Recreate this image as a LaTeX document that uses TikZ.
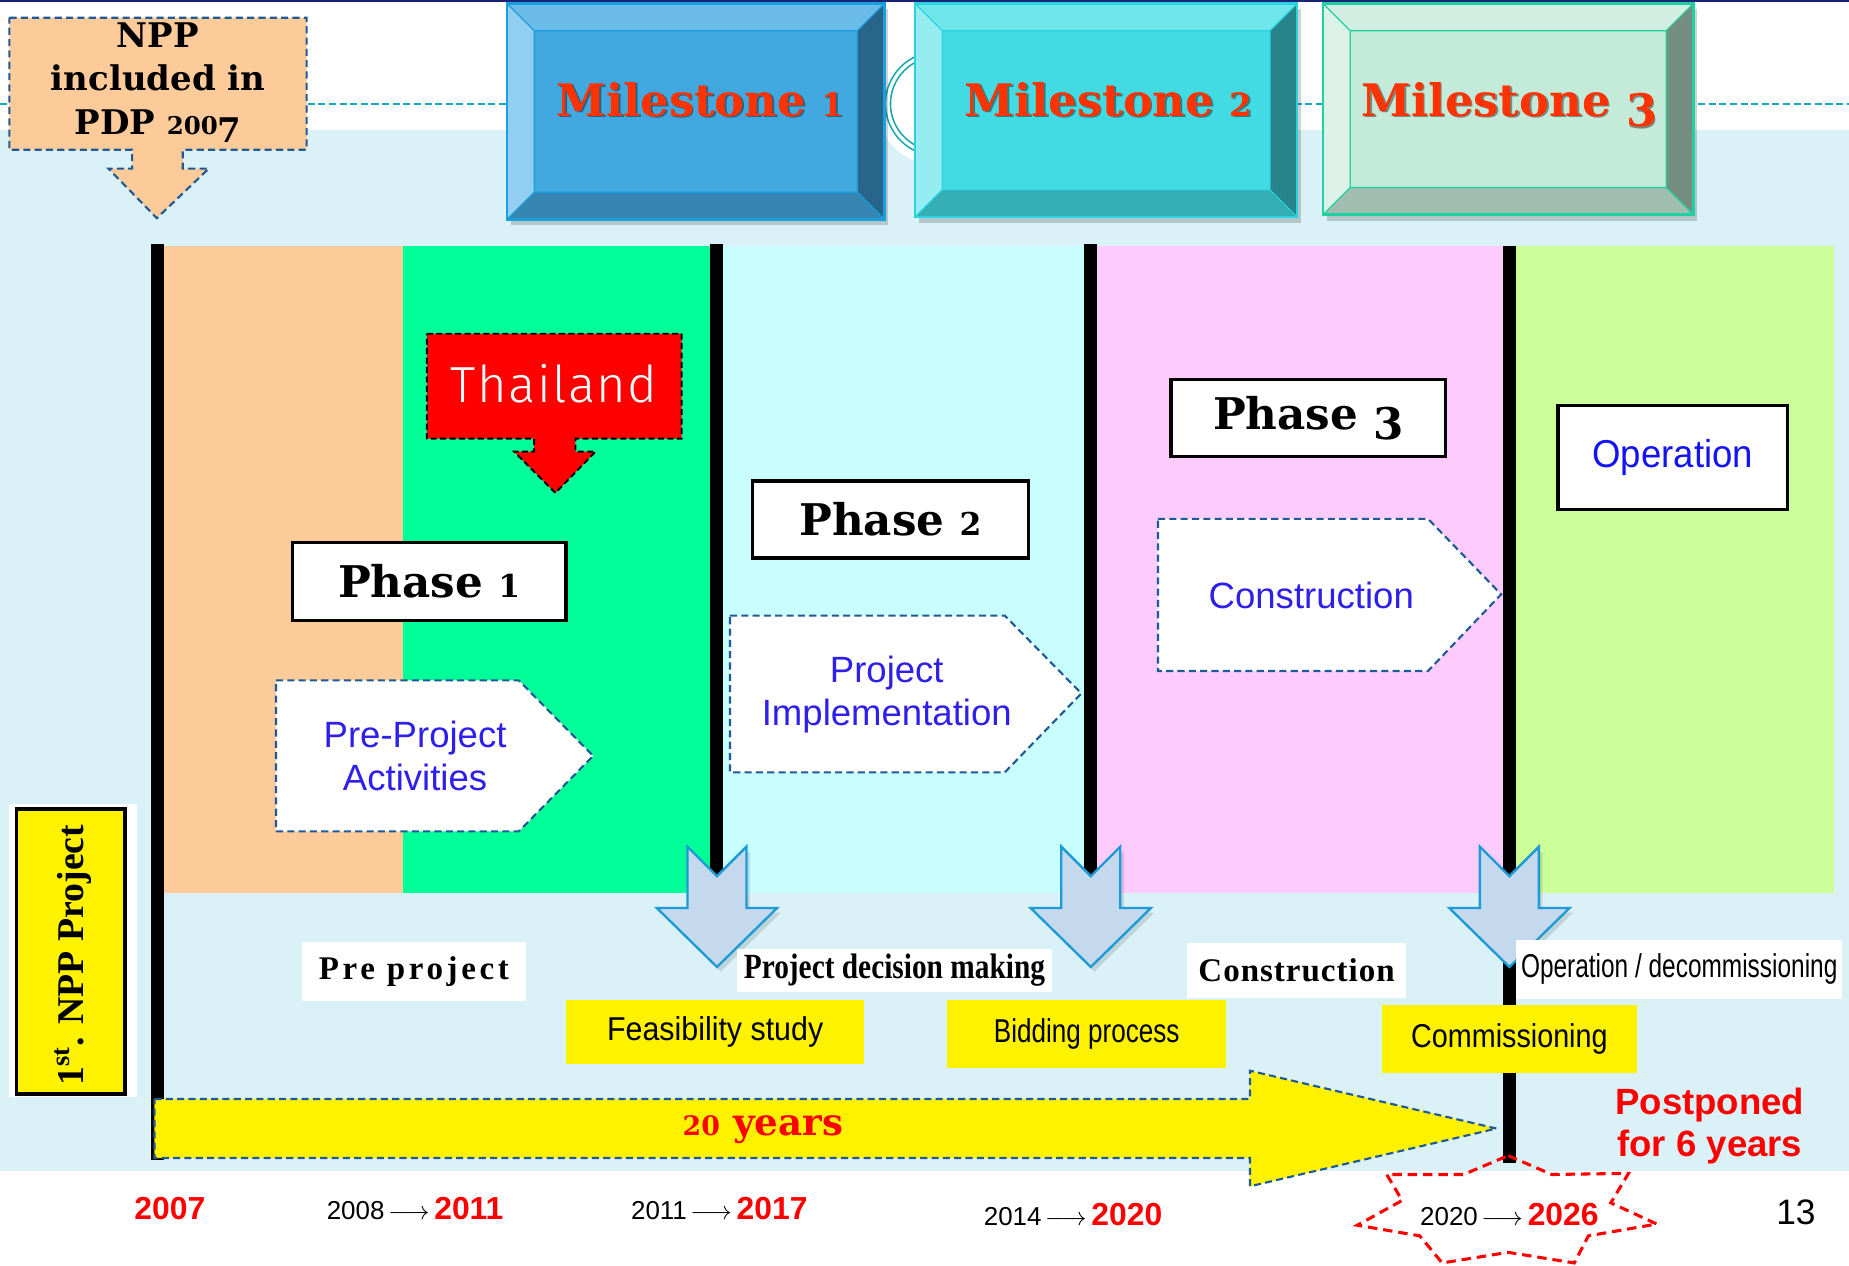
\documentclass[tikz,border=0pt]{standalone}
\usepackage{fontspec}
\usepackage{graphicx}
\newfontfamily\arialf{Liberation Sans}
\newfontfamily\timesf{Liberation Serif}
\newfontfamily\timessp{Liberation Serif}[LetterSpace=11]
\newfontfamily\timessps{Liberation Serif}[LetterSpace=3]
\newfontfamily\thinf{Fira Sans Light}[LetterSpace=3]
\newfontfamily\headf{DejaVu Serif}
% old-style figures: x-height ones and descending ones
\newcommand{\osl}[1]{\scalebox{0.72}{#1}}
\newcommand{\osd}[1]{\raisebox{-0.24em}{#1}}
\newcommand{\fs}[2]{\fontsize{#1}{#2}\selectfont}
\newcommand{\yrspan}[2]{#1\hspace{1.5pt}$\longrightarrow$\hspace{2pt}{\color{red}\bfseries\fs{13.5}{16}#2}}

\definecolor{skyband}{RGB}{218,242,247}
\definecolor{navy}{RGB}{25,35,120}
\definecolor{dashteal}{RGB}{22,168,190}
\definecolor{ringteal}{RGB}{20,168,170}
\definecolor{peach}{RGB}{253,203,153}
\definecolor{mint}{RGB}{0,255,153}
\definecolor{icecyan}{RGB}{200,254,254}
\definecolor{pinkband}{RGB}{253,204,253}
\definecolor{limeband}{RGB}{204,255,153}
\definecolor{outline}{RGB}{31,90,150}
\definecolor{pblue}{RGB}{46,32,232}
\definecolor{oblue}{RGB}{20,20,240}
\definecolor{msred}{RGB}{255,51,0}
\definecolor{arrowfill}{RGB}{196,217,237}
\definecolor{arrowedge}{RGB}{30,155,215}
\definecolor{m1face}{RGB}{66,168,224}
\definecolor{m1top}{RGB}{108,188,233}
\definecolor{m1left}{RGB}{146,206,241}
\definecolor{m1right}{RGB}{39,102,138}
\definecolor{m1bot}{RGB}{53,132,178}
\definecolor{m1edge}{RGB}{25,160,220}
\definecolor{m2face}{RGB}{67,219,227}
\definecolor{m2top}{RGB}{110,230,236}
\definecolor{m2left}{RGB}{149,237,242}
\definecolor{m2right}{RGB}{38,132,138}
\definecolor{m2bot}{RGB}{53,173,180}
\definecolor{m2edge}{RGB}{40,212,224}
\definecolor{m3face}{RGB}{196,234,218}
\definecolor{m3top}{RGB}{210,238,226}
\definecolor{m3left}{RGB}{220,242,233}
\definecolor{m3right}{RGB}{115,142,128}
\definecolor{m3bot}{RGB}{160,190,175}
\definecolor{m3edge}{RGB}{32,208,160}

% bevelled milestone plate: #1 colour prefix, (#2,#3) top-left, (#4,#5) bottom-right
\newcommand{\bevelbox}[5]{%
  \fill[black,opacity=.18] (#2+3,#3+5) rectangle (#4+3,#5+5);
  \fill[#1top] (#2,#3) -- (#4,#3) -- (#4-23,#3+23) -- (#2+23,#3+23) -- cycle;
  \fill[#1left] (#2,#3) -- (#2+23,#3+23) -- (#2+23,#5-23) -- (#2,#5) -- cycle;
  \fill[#1right] (#4,#3) -- (#4,#5) -- (#4-23,#5-23) -- (#4-23,#3+23) -- cycle;
  \fill[#1bot] (#2,#5) -- (#4,#5) -- (#4-23,#5-23) -- (#2+23,#5-23) -- cycle;
  \fill[#1face] (#2+23,#3+23) rectangle (#4-23,#5-23);
  \draw[#1edge, line width=0.5pt] (#2+23,#3+23) rectangle (#4-23,#5-23)
    (#2,#3) -- (#2+23,#3+23) (#4,#3) -- (#4-23,#3+23)
    (#2,#5) -- (#2+23,#5-23) (#4,#5) -- (#4-23,#5-23);
  \draw[#1edge, line width=1pt] (#2,#3) rectangle (#4,#5);
}
% notched down arrow centred on x = #1
\newcommand{\dnarrow}[1]{%
  \fill[black,opacity=.12] (#1-22,722) -- (#1+3,747) -- (#1+28,722) -- (#1+28,774) -- (#1+54,774) -- (#1+3,824) -- (#1-48,774) -- (#1-22,774) -- cycle;
  \draw[downarrow] (#1-25,718) -- (#1,743) -- (#1+25,718) -- (#1+25,770) -- (#1+51,770) -- (#1,820) -- (#1-51,770) -- (#1-25,770) -- cycle;
}

\begin{document}
\begin{tikzpicture}[x=0.5pt,y=-0.5pt,
  outlined/.style={draw=outline, line width=0.9pt, dash pattern=on 3pt off 1.8pt, line join=miter},
  phasebox/.style={draw=black, line width=1.5pt, fill=white, inner sep=0pt, font=\headf\bfseries\fs{18.5}{22}},
  mstext/.style={anchor=base, inner sep=0pt, font=\headf\bfseries\fs{19}{23}},
  pentext/.style={align=center, inner sep=0pt, text=pblue, font=\arialf\fs{15.5}{18.5}},
  whitelab/.style={fill=white, inner sep=0pt},
  yellowlab/.style={fill=yellow, inner sep=0pt, font=\arialf\fs{14}{16}},
  downarrow/.style={fill=arrowfill, draw=arrowedge, line width=1pt, line join=miter},
  bar/.style={line width=5.5pt, black},
  yeartext/.style={inner sep=0pt, font=\arialf\fs{11}{13}}]

\useasboundingbox (0,0) rectangle (1568,1073);
\fill[white] (0,0) rectangle (1568,1073);
\fill[skyband] (0,110) rectangle (1568,993);
\draw[navy, line width=1pt] (0,0.8) -- (1568,0.8);
\draw[dashteal, line width=0.8pt, dash pattern=on 3pt off 1.5pt] (0,88) -- (1568,88);

% ring behind the milestone plates
\fill[white] (795,88) circle[radius=26pt];
\draw[ringteal, line width=0.7pt, double=white, double distance=1.4pt] (795,88) circle[radius=21pt];

% milestone plates
\bevelbox{m1}{430}{3}{750}{186}
\bevelbox{m2}{776}{3}{1100}{184}
\bevelbox{m3}{1122}{3}{1436}{182}
\node[mstext, text=black, opacity=.4] (ms1s) at (595.5,100) {Milestone \osl{1}};
\node[mstext, text=msred] (ms1) at (594,98.5) {Milestone \osl{1}};
\node[mstext, text=black, opacity=.4] (ms2s) at (941.5,100) {Milestone \osl{2}};
\node[mstext, text=msred] (ms2) at (940,98.5) {Milestone \osl{2}};
\node[mstext, text=black, opacity=.4] (ms3s) at (1281.5,100) {Milestone \osd{3}};
\node[mstext, text=msred] (ms3) at (1280,98.5) {Milestone \osd{3}};

% NPP callout
\draw[outlined, fill=peach] (8,15) -- (260,15) -- (260,127) -- (155,127) -- (155,143) -- (177,143)
  -- (133,185) -- (92,143) -- (112,143) -- (112,127) -- (8,127) -- cycle;
\node[align=center, inner sep=0pt, font=\headf\bfseries\fs{14.4}{18.5}] (npp) at (134,70) {NPP\\included in\\PDP \osl{200}\osd{7}};

% phase bands
\fill[peach] (138,209) rectangle (342,757);
\fill[mint] (342,209) rectangle (608,757);
\fill[icecyan] (608,209) rectangle (925,757);
\fill[pinkband] (925,209) rectangle (1280,757);
\fill[limeband] (1280,209) rectangle (1555,757);

% milestone bars
\coordinate (b1t) at (133.5,207); \coordinate (b1b) at (133.5,984);
\coordinate (b2t) at (608,207);   \coordinate (b2b) at (608,745);
\coordinate (b3t) at (925,207);   \coordinate (b3b) at (925,745);
\coordinate (b4t) at (1280,209);  \coordinate (b4b) at (1280,986);
\draw[bar] (b1t) -- (b1b);
\draw[bar] (b2t) -- (b2b);
\draw[bar] (b3t) -- (b3b);
\draw[bar] (b4t) -- (b4b);

% Thailand callout
\draw[fill=red, draw=black, line width=0.8pt, dash pattern=on 2.5pt off 1.5pt, line join=miter]
  (362,283) -- (578,283) -- (578,372) -- (488,372) -- (488,383) -- (505,383) -- (471,418)
  -- (436,383) -- (453,383) -- (453,372) -- (362,372) -- cycle;
\node[inner sep=0pt, text=white, font=\thinf\fs{21.5}{26}] (thai) at (470,325) {Thailand};

% phase headings
\node[phasebox, minimum width=116pt, minimum height=33pt] (ph1) at (364,493) {Phase \osl{1}};
\node[phasebox, minimum width=117pt, minimum height=32.5pt] (ph2) at (755,440.5) {Phase \osl{2}};
\node[phasebox, minimum width=116.5pt, minimum height=32.5pt] (ph3) at (1109.5,354.5) {Phase \osd{3}};
\node[draw=black, line width=1.5pt, fill=white, inner sep=0pt, minimum width=97.5pt, minimum height=44pt,
  text=oblue, font=\arialf\fs{16.5}{19}] (oper) at (1418.5,388) {\scalebox{0.94}[1]{Operation}};

% activity pentagons
\draw[outlined, fill=white] (234,577) -- (440,577) -- (503,641) -- (440,705) -- (234,705) -- cycle;
\node[pentext] (pre) at (352,641) {Pre-Project\\Activities};
\draw[outlined, fill=white] (619,522) -- (852,522) -- (917,588) -- (852,655) -- (619,655) -- cycle;
\node[pentext] (impl) at (752,589) {Project\\Implementation};
\draw[outlined, fill=white] (982,440) -- (1211,440) -- (1273,504) -- (1211,569) -- (982,569) -- cycle;
\node[pentext] (cons) at (1112,505) {Construction};

% milestone arrows
\dnarrow{608}
\dnarrow{925}
\dnarrow{1280}

% stage labels
\node[whitelab, minimum width=95pt, minimum height=25pt, font=\timessp\bfseries\fs{14}{16}] (prelab) at (351,824) {Pre project};
\node[whitelab, minimum width=133.5pt, minimum height=18pt, font=\timesf\bfseries\fs{15}{17}] (pdmlab) at (758.5,823) {\scalebox{0.83}[1]{Project decision making}};
\node[whitelab, minimum width=92.5pt, minimum height=23pt, font=\timessps\bfseries\fs{14}{16}] (conlab) at (1099.5,823) {Construction};
\node[whitelab, minimum width=138pt, minimum height=25pt, font=\arialf\fs{14}{16}] (opdlab) at (1424,822) {\scalebox{0.74}[1]{Operation / decommissioning}};

\node[yellowlab, minimum width=126.5pt, minimum height=27pt] (feas) at (606.5,875) {\scalebox{0.92}[1]{Feasibility study}};
\node[yellowlab, minimum width=118.5pt, minimum height=29pt] (bid) at (921.5,877) {\scalebox{0.79}[1]{Bidding process}};
\node[yellowlab, minimum width=108pt, minimum height=29pt] (comm) at (1280,881) {\scalebox{0.87}[1]{Commissioning}};

% twenty-year span arrow
\draw[outlined, fill=yellow] (131,932) -- (1060,932) -- (1060,908) -- (1269,957) -- (1060,1006) -- (1060,982) -- (131,982) -- cycle;
\node[inner sep=0pt, text=red, font=\headf\bfseries\fs{15.8}{19}] (span) at (647,958) {\osl{20} years};

% side label
\fill[white] (8,682) rectangle (116,930);
\node[draw=black, line width=1.6pt, fill=yellow, minimum width=46pt, minimum height=121pt, inner sep=0pt] (nppbox) at (60,807) {};
\node[rotate=90, inner sep=0pt, font=\timesf\bfseries\fs{16}{18}] (npplab) at (62,810) {1\textsuperscript{st}. NPP Project};

% years
\node[yeartext, text=red, font=\arialf\bfseries\fs{13.5}{16}] (y2007) at (144,1025) {2007};
\node[yeartext] (y2011) at (352,1025) {\yrspan{2008}{2011}};
\node[yeartext] (y2017) at (610,1025) {\yrspan{2011}{2017}};
\node[yeartext] (y2020) at (910,1030) {\yrspan{2014}{2020}};
\node[yeartext] (y2026) at (1280,1030) {\yrspan{2020}{2026}};
\node[yeartext, font=\arialf\fs{15}{18}] (page) at (1523,1028) {13};

% postponement star
\draw[red, line width=1.3pt, dash pattern=on 4pt off 2.5pt, line join=miter]
  (1279,980) -- (1316,996) -- (1381,995) -- (1366,1020) -- (1405,1038) -- (1347,1048) -- (1335,1071)
  -- (1279,1062) -- (1223,1071) -- (1204,1048) -- (1151,1039) -- (1189,1018) -- (1176,996) -- (1241,996) -- cycle;
\node[align=center, inner sep=0pt, text=red, font=\arialf\bfseries\fs{15.5}{17.5}] (postp) at (1450,955) {Postponed\\for 6 years};
\end{tikzpicture}
\end{document}
